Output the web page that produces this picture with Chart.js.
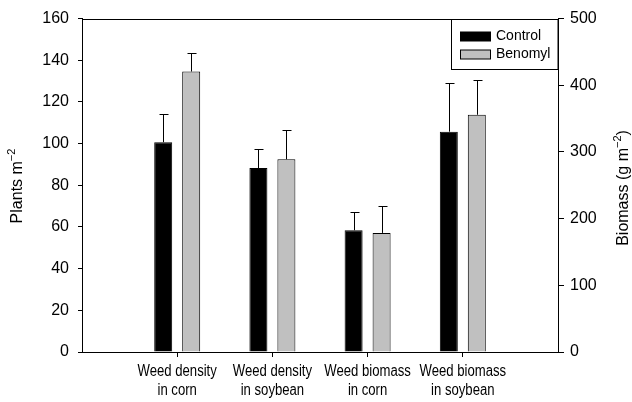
<!DOCTYPE html>
<html>
<head>
<meta charset="utf-8">
<script src="https://cdn.jsdelivr.net/npm/chart.js@4"></script>
<style>
  html, body { margin: 0; padding: 0; background: #fff; }
</style>
</head>
<body>
<canvas id="c" width="632" height="402"></canvas>
<script>
// Category labels (two lines each)
const categories = [
  ['Weed density', 'in corn'],
  ['Weed density', 'in soybean'],
  ['Weed biomass', 'in corn'],
  ['Weed biomass', 'in soybean']
];
const seriesNames = ['Control', 'Benomyl'];

// Weed density (plants m-2), left axis
const controlDensity = [100.7, 88.3];
const benomylDensity = [134.6, 92.5];
const controlDensityErr = [13.5, 9.3];
const benomylDensityErr = [8.8, 14.2];

// Weed biomass (g m-2), right axis
const controlBiomass = [182.6, 330.4];
const benomylBiomass = [178.6, 355.8];
const controlBiomassErr = [27, 73.3];
const benomylBiomassErr = [40, 52.2];

// Axis ticks
const densityTicks = { min: 0, max: 160, step: 20 };
const biomassTicks = { min: 0, max: 500, step: 100 };

const FONT = "'Liberation Sans', Arial, sans-serif";
const GREY = '#c0c0c0';

// Empty slots at both ends keep the groups away from the frame
const xLabels = [''].concat(categories, ['']);
const pad = (vals, offset) => {
  const out = new Array(xLabels.length).fill(null);
  vals.forEach((v, i) => { out[offset + i] = v; });
  return out;
};

const datasets = [
  { label: seriesNames[0], data: pad(controlDensity, 1), err: pad(controlDensityErr, 1), yAxisID: 'y', backgroundColor: '#000' },
  { label: seriesNames[1], data: pad(benomylDensity, 1), err: pad(benomylDensityErr, 1), yAxisID: 'y', backgroundColor: GREY },
  { label: seriesNames[0], data: pad(controlBiomass, 3), err: pad(controlBiomassErr, 3), yAxisID: 'y1', backgroundColor: '#000' },
  { label: seriesNames[1], data: pad(benomylBiomass, 3), err: pad(benomylBiomassErr, 3), yAxisID: 'y1', backgroundColor: GREY }
].map(d => Object.assign(d, {
  borderColor: '#000',
  borderWidth: 1,
  skipNull: true,
  categoryPercentage: 0.588,
  barPercentage: 0.643
}));

// Upper error bars with caps
const errorBars = {
  id: 'errorBars',
  afterDatasetsDraw(chart) {
    const ctx = chart.ctx;
    ctx.save();
    ctx.strokeStyle = '#000';
    ctx.lineWidth = 1;
    chart.data.datasets.forEach((ds, i) => {
      const meta = chart.getDatasetMeta(i);
      const scale = chart.scales[ds.yAxisID];
      meta.data.forEach((el, j) => {
        const v = ds.data[j];
        if (v === null || v === undefined) return;
        const x = Math.round(el.x) + 0.5;
        const yTop = Math.round(scale.getPixelForValue(v + ds.err[j])) + 0.5;
        ctx.beginPath();
        ctx.moveTo(x, el.y);
        ctx.lineTo(x, yTop);
        ctx.moveTo(x - 4, yTop);
        ctx.lineTo(x + 5, yTop);
        ctx.stroke();
      });
    });
    ctx.restore();
  }
};

// Rotated axis title with a superscript part
function drawRotatedTitle(ctx, cx, cy, parts) {
  ctx.save();
  ctx.translate(cx, cy);
  ctx.rotate(-Math.PI / 2);
  ctx.fillStyle = '#000';
  ctx.textBaseline = 'middle';
  ctx.textAlign = 'left';
  let total = 0;
  parts.forEach(p => {
    ctx.font = (p.sup ? '11px ' : '16px ') + FONT;
    p.w = ctx.measureText(p.t).width;
    total += p.w;
  });
  let x = -total / 2;
  parts.forEach(p => {
    ctx.font = (p.sup ? '11px ' : '16px ') + FONT;
    ctx.fillText(p.t, x, p.sup ? -6 : 0);
    x += p.w;
  });
  ctx.restore();
}

// Category labels in a condensed setting under each tick
const categoryLabels = {
  id: 'categoryLabels',
  afterDraw(chart) {
    const ctx = chart.ctx;
    const xs = chart.scales.x;
    ctx.save();
    ctx.fillStyle = '#000';
    ctx.font = '16px ' + FONT;
    ctx.textAlign = 'center';
    ctx.textBaseline = 'middle';
    xLabels.forEach((lines, i) => {
      if (!Array.isArray(lines)) return;
      const x = xs.getPixelForTick(i);
      lines.forEach((line, k) => {
        ctx.save();
        ctx.translate(x, xs.top + 20 + k * 18.5);
        ctx.scale(0.82, 1);
        ctx.fillText(line, 0, 0);
        ctx.restore();
      });
    });
    ctx.restore();
  }
};

const frameAndLegend = {
  id: 'frameAndLegend',
  afterDraw(chart) {
    const ctx = chart.ctx;
    const a = chart.chartArea;
    ctx.save();
    ctx.strokeStyle = '#000';
    ctx.lineWidth = 1;
    // top frame line
    ctx.beginPath();
    ctx.moveTo(a.left, Math.round(a.top) + 0.5);
    ctx.lineTo(a.right, Math.round(a.top) + 0.5);
    ctx.stroke();

    // legend box
    const bx = 451.5, by = Math.round(a.top) + 0.5, bw = a.right - 451.5, bh = 50;
    ctx.fillStyle = '#fff';
    ctx.fillRect(bx, by, bw, bh);
    ctx.strokeRect(bx, by, bw, bh);
    const items = [{ t: seriesNames[0], c: '#000' }, { t: seriesNames[1], c: GREY }];
    ctx.font = '14px ' + FONT;
    ctx.textBaseline = 'middle';
    ctx.textAlign = 'left';
    items.forEach((it, k) => {
      const cy = by + 17 + k * 18;
      ctx.fillStyle = it.c;
      ctx.fillRect(460.5, cy - 4.5, 30, 9);
      ctx.strokeRect(460.5, cy - 4.5, 30, 9);
      ctx.fillStyle = '#000';
      ctx.fillText(it.t, 496, cy);
    });
    ctx.restore();

    drawRotatedTitle(ctx, 18, 186, [{ t: 'Plants m' }, { t: '\u22122', sup: true }]);
    drawRotatedTitle(ctx, 624, 188, [{ t: 'Biomass (g m' }, { t: '\u22122', sup: true }, { t: ')' }]);
  }
};

new Chart(document.getElementById('c'), {
  type: 'bar',
  data: { labels: xLabels, datasets },
  options: {
    responsive: false,
    animation: false,
    layout: { padding: { top: 18, left: 0, right: 0, bottom: 0 } },
    plugins: { legend: { display: false }, tooltip: { enabled: false } },
    scales: {
      x: {
        type: 'category',
        offset: false,
        grid: {
          offset: false,
          drawOnChartArea: false,
          drawTicks: true,
          tickLength: 5,
          color: ctx => (ctx.index === 0 || ctx.index === xLabels.length - 1) ? 'rgba(0,0,0,0)' : '#000'
        },
        border: { color: '#000', width: 1 },
        ticks: { display: false, autoSkip: false, maxRotation: 0 },
        afterFit: s => { s.height = 50; }
      },
      y: {
        position: 'left',
        min: densityTicks.min,
        max: densityTicks.max,
        grid: { drawOnChartArea: false, drawTicks: true, tickLength: 4, color: '#000' },
        border: { color: '#000', width: 1 },
        ticks: { stepSize: densityTicks.step, color: '#000', font: { family: FONT, size: 16 }, padding: 9 },
        afterFit: s => { s.width = 82; }
      },
      y1: {
        position: 'right',
        min: biomassTicks.min,
        max: biomassTicks.max,
        grid: { drawOnChartArea: false, drawTicks: true, tickLength: 6, color: '#000' },
        border: { color: '#000', width: 1 },
        ticks: { stepSize: biomassTicks.step, color: '#000', font: { family: FONT, size: 16 }, padding: 6 },
        afterFit: s => { s.width = 74; }
      }
    }
  },
  plugins: [errorBars, categoryLabels, frameAndLegend]
});
</script>
</body>
</html>
